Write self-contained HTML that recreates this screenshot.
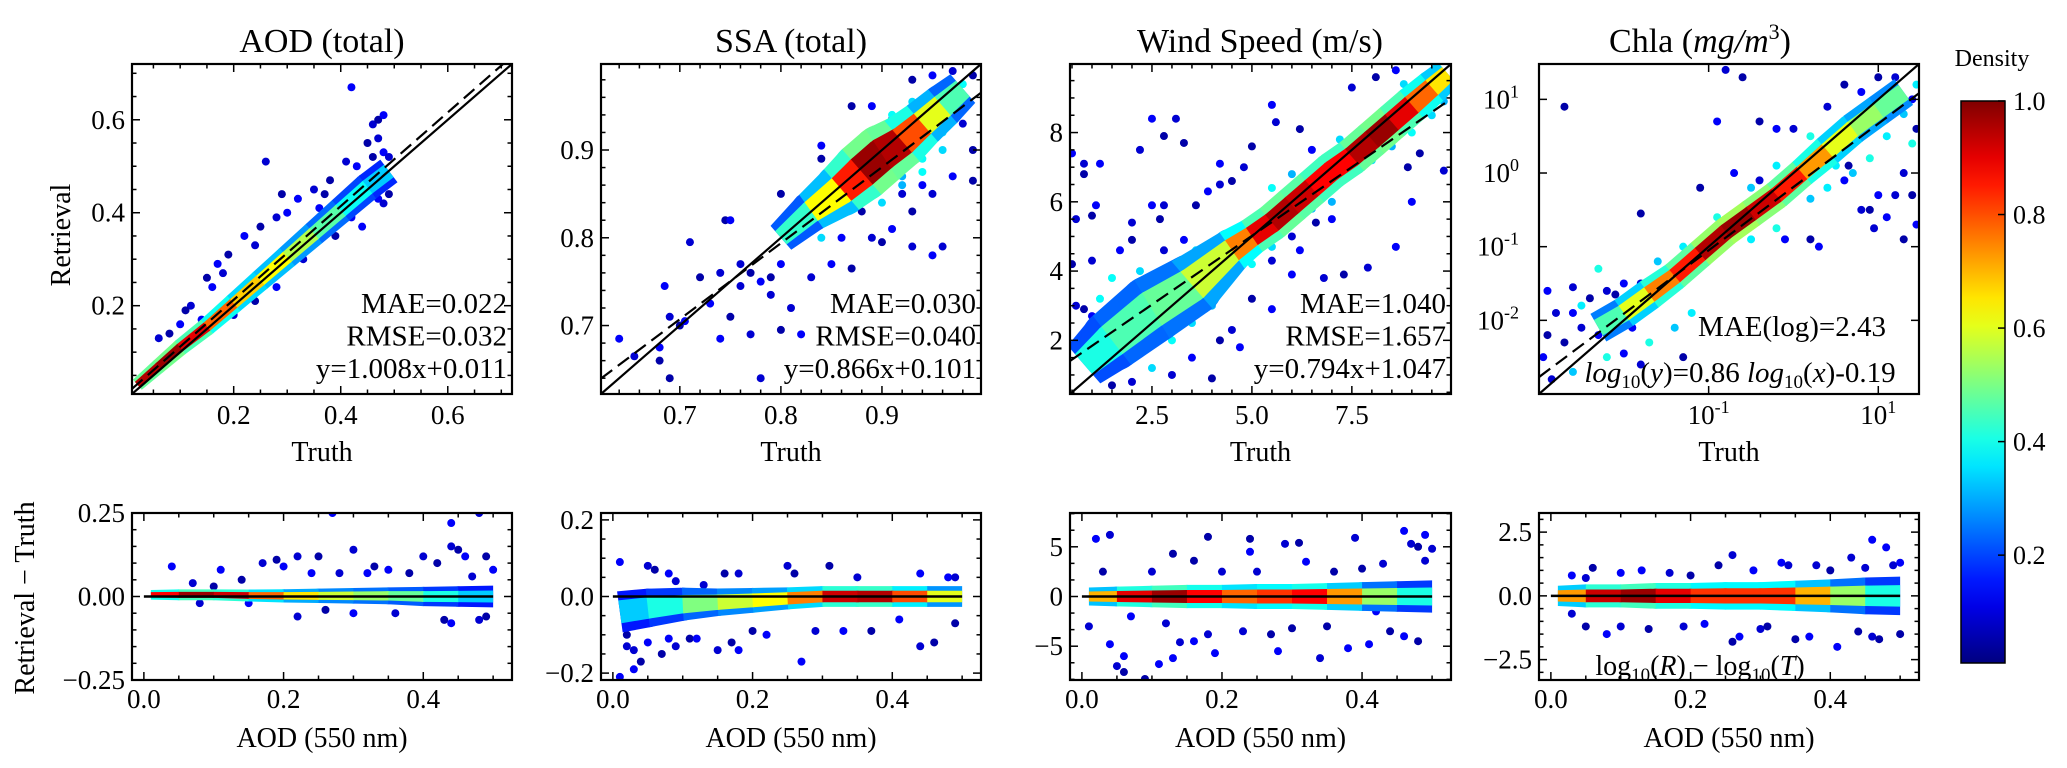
<!DOCTYPE html>
<html><head><meta charset="utf-8"><title>Retrieval scatter density</title>
<style>
html,body{margin:0;padding:0;background:#fff;}
svg{display:block;font-family:"Liberation Serif",serif;}
</style></head>
<body>
<svg id="fig" width="2067" height="768" viewBox="0 0 2067 768" xmlns="http://www.w3.org/2000/svg"></svg>
<script>
// ---------------- DATA ----------------
// AOD top
const aodBandX=[0.02,0.06,0.10,0.15,0.20,0.25,0.30,0.35,0.40,0.45,0.49];
const aodBandY=[0.03,0.07,0.11,0.155,0.205,0.255,0.305,0.355,0.405,0.455,0.49];
const aodBandW=[0.008,0.009,0.010,0.011,0.012,0.013,0.014,0.015,0.016,0.017,0.017];
const aodBandD=[0.9,1.0,0.95,0.85,0.7,0.65,0.6,0.5,0.42,0.35,0.3];
const aodOutX=[0.42,0.46,0.47,0.48,0.47,0.45,0.48,0.49,0.46,0.43,0.41,0.49,0.47,0.48,0.40,0.42,0.26,0.29,0.32,0.35,0.37,0.30,0.28,0.25,0.22,0.24,0.19,0.17,0.18,0.15,0.16,0.12,0.11,0.10,0.06,0.08,0.14,0.20,0.24,0.28,0.33,0.39,0.44,0.43,0.38,0.36];
const aodOutY=[0.67,0.59,0.60,0.61,0.56,0.55,0.53,0.52,0.52,0.50,0.51,0.44,0.43,0.42,0.38,0.39,0.51,0.44,0.43,0.45,0.44,0.40,0.39,0.37,0.35,0.33,0.31,0.29,0.27,0.26,0.24,0.20,0.19,0.16,0.13,0.14,0.17,0.18,0.21,0.24,0.30,0.35,0.37,0.46,0.47,0.41];
// SSA top
const ssaBandX=[0.80,0.83,0.86,0.88,0.90,0.92,0.94,0.96,0.98];
const ssaBandY=[0.80,0.83,0.855,0.875,0.895,0.91,0.93,0.95,0.97];
const ssaBandW=[0.010,0.013,0.017,0.019,0.019,0.017,0.015,0.014,0.012];
const ssaBandD=[0.35,0.5,0.75,0.95,1.0,0.9,0.7,0.5,0.4];
const ssaOutX=[0.64,0.655,0.68,0.685,0.69,0.70,0.705,0.71,0.72,0.73,0.74,0.745,0.75,0.76,0.77,0.78,0.79,0.79,0.80,0.81,0.75,0.74,0.77,0.80,0.82,0.78,0.69,0.68,0.76,0.80,0.82,0.83,0.84,0.84,0.85,0.87,0.89,0.91,0.93,0.95,0.97,0.99,0.96,0.98,0.99,0.97,0.95,0.93,0.91,0.89,0.87,0.85,0.83,0.90,0.95,0.96,0.99,0.94,0.92,0.88,0.86,0.93];
const ssaOutY=[0.685,0.665,0.66,0.745,0.71,0.70,0.705,0.795,0.755,0.725,0.76,0.82,0.82,0.77,0.76,0.75,0.735,0.755,0.77,0.72,0.71,0.685,0.69,0.695,0.69,0.64,0.64,0.675,0.745,0.85,0.80,0.845,0.89,0.905,0.88,0.95,0.95,0.935,0.98,0.985,0.99,0.985,0.94,0.93,0.90,0.87,0.85,0.83,0.81,0.80,0.765,0.77,0.755,0.795,0.78,0.79,0.865,0.86,0.85,0.83,0.80,0.79];
const ssaMidX=[0.82,0.84,0.86,0.88,0.90,0.92,0.94,0.96,0.97,0.85,0.87,0.89,0.91,0.93,0.95,0.98,0.90,0.92,0.94,0.96];
const ssaMidY=[0.82,0.80,0.83,0.85,0.86,0.87,0.89,0.92,0.96,0.865,0.89,0.915,0.94,0.955,0.965,0.975,0.84,0.86,0.875,0.90];
// Wind top
const windBandX=[0.8,1.5,2.5,3.5,4.5,5.0,5.5,6.0,6.5,7.0,7.5,8.0,8.5,9.0,9.5,9.9];
const windBandY=[1.3,2.0,2.9,3.6,4.6,5.0,5.4,5.9,6.4,6.9,7.3,7.8,8.3,8.8,9.3,9.7];
const windBandW=[0.4,0.5,0.55,0.5,0.35,0.3,0.3,0.3,0.3,0.3,0.3,0.3,0.3,0.3,0.28,0.25];
const windBandD=[0.35,0.45,0.45,0.5,0.65,0.85,0.95,0.95,0.9,0.85,0.9,1.0,0.95,0.85,0.7,0.6];
const windOutX=[0.5,0.8,0.8,1.2,0.6,1.0,1.1,2.2,2.8,2.5,3.1,3.3,2.5,2.8,2.7,4.2,4.8,5.0,5.5,5.6,6.2,6.5,7.5,8.1,8.6,2.0,3.6,3.9,4.2,4.5,3.3,2.8,2.0,1.7,1.0,0.5,6.0,6.8,7.3,8.6,7.9,8.9,9.0,9.8,9.2,6.2,5.5,5.0,5.5,4.5,4.2,3.5,3.0,4.0,4.7,0.6,0.8,1.0,6.0,6.6,7.0,2.0,1.5];
const windOutY=[7.4,7.1,6.8,7.1,5.5,5.6,5.9,7.5,7.9,8.4,8.4,7.7,5.9,5.9,5.5,7.1,7.0,7.6,8.8,8.3,8.1,7.5,9.3,9.6,9.8,5.4,5.9,6.3,6.5,6.6,4.9,4.6,4.9,4.6,4.3,4.2,3.9,3.8,3.9,4.7,4.1,7.0,6.0,6.9,7.4,4.6,4.3,3.2,2.9,2.3,2.0,1.5,1.0,0.9,1.8,3.0,2.9,2.7,5.0,5.4,5.5,0.8,0.7];
const windMidX=[1.5,2.2,2.7,3.2,3.6,4.0,3.0,3.5,4.0,2.0,2.5,7.0,7.5,8.0,8.5,9.0,9.5,6.5,5.0,5.5,9.8,9.8,7.2,6.0,5.5,8.8,1.0,1.2,0.7,1.8];
const windMidY=[3.8,4.0,3.6,3.9,4.6,4.3,2.0,2.5,3.0,1.5,1.2,6.0,6.8,7.2,7.6,8.0,8.5,5.8,4.2,4.7,8.9,9.1,7.8,6.8,6.4,9.4,2.3,3.2,1.8,2.9];
// Chla top (log10 values)
const chlBandX=[-2.3,-2.0,-1.7,-1.4,-1.1,-0.8,-0.5,-0.2,0.1,0.4,0.7,1.0,1.3];
const chlBandY=[-2.1,-1.9,-1.65,-1.4,-1.1,-0.8,-0.55,-0.3,0.0,0.3,0.6,0.85,1.1];
const chlBandW=[0.12,0.12,0.12,0.11,0.11,0.11,0.11,0.11,0.11,0.12,0.12,0.12,0.12];
const chlBandD=[0.4,0.5,0.7,0.8,0.9,1.0,0.95,0.9,0.8,0.65,0.55,0.5,0.45];
const chlOutX=[-2.9,-2.8,-2.9,-2.95,-2.85,-2.7,-2.6,-2.6,-2.4,-2.3,-2.2,-2.1,-2.0,-1.8,-2.7,-2.0,-1.8,-1.6,-1.9,-2.5,-1.3,-0.6,-0.9,-1.1,-0.9,-0.8,-0.6,-0.7,-0.4,-0.4,-0.2,0.0,0.2,0.3,0.4,0.6,0.6,0.8,0.9,1.0,1.2,1.4,1.45,1.3,1.45,1.4,1.2,1.0,0.8,0.9,1.3,1.1,0.95,-1.8,-0.1,0.7,0.65];
const chlOutY=[-1.6,-1.9,-2.2,-2.5,-2.8,-2.3,-1.9,-1.55,-1.7,-2.2,-1.6,-1.65,-2.45,-2.6,0.9,-1.5,-1.5,-1.6,-2.1,-2.1,-2.5,-0.7,-1.0,-0.2,0.7,1.4,1.3,0.0,-0.1,0.7,0.6,0.6,-0.9,-1.0,0.9,1.2,-0.1,-0.5,-0.5,-0.3,-0.3,-0.3,-0.7,0.0,0.6,1.0,1.3,1.3,1.1,0.7,-0.9,-0.6,-0.75,-0.55,-0.9,0.4,0.1];
const chlMidX=[0.3,0.5,0.7,0.9,1.1,1.3,1.4,0.4,0.2,-0.2,-0.5,-1.4,-1.7,-1.2,-2.6,-2.2,1.45,0.6,0.2,-0.2,-0.5,-0.9,-1.3,-1.6,-2.3,-2.5];
const chlMidY=[0.3,0.1,0.0,0.2,0.5,0.8,0.4,-0.2,-0.35,-0.75,-0.9,-2.1,-2.3,-1.9,-2.7,-2.5,1.2,0.7,0.5,0.1,-0.2,-0.6,-1.0,-1.2,-1.3,-1.8];
// bottom residual panels (shared x nodes)
const resX=[0.01,0.05,0.10,0.15,0.20,0.25,0.30,0.35,0.40,0.45,0.50];
const aodResC=[0.005,0.005,0.005,0.003,0.002,0.002,0.002,0.002,0.0,0.0,0.0];
const aodResW=[0.008,0.009,0.009,0.01,0.011,0.012,0.013,0.014,0.016,0.017,0.018];
const aodResD=[0.8,0.95,1.0,0.85,0.7,0.6,0.55,0.5,0.45,0.35,0.3];
const aodResOutX=[0.04,0.07,0.10,0.11,0.17,0.19,0.20,0.22,0.25,0.27,0.30,0.33,0.35,0.40,0.42,0.44,0.44,0.45,0.46,0.48,0.49,0.50,0.22,0.26,0.30,0.36,0.43,0.44,0.48,0.49,0.15,0.08,0.38,0.32,0.28,0.14,0.24,0.47];
const aodResOutY=[0.09,0.04,0.03,0.08,0.10,0.11,0.09,0.12,0.12,0.25,0.14,0.09,0.08,0.12,0.10,0.22,0.15,0.14,0.12,0.25,0.12,0.08,-0.06,-0.04,-0.05,-0.05,-0.07,-0.08,-0.07,-0.06,-0.02,-0.02,0.07,0.07,0.07,0.05,0.07,0.06];
const ssaResC=[-0.04,-0.03,-0.02,-0.015,-0.01,-0.005,0,0,0,0,0];
const ssaResW=[0.03,0.028,0.024,0.02,0.018,0.016,0.015,0.015,0.015,0.015,0.015];
const ssaResD=[0.3,0.35,0.45,0.55,0.6,0.65,0.85,1.0,0.9,0.7,0.5];
const ssaResOutX=[0.01,0.02,0.02,0.03,0.03,0.04,0.05,0.05,0.06,0.08,0.09,0.07,0.08,0.09,0.11,0.12,0.15,0.17,0.18,0.18,0.16,0.22,0.25,0.26,0.27,0.29,0.31,0.33,0.35,0.37,0.44,0.44,0.46,0.48,0.49,0.49,0.01,0.13,0.20,0.41];
const ssaResOutY=[0.09,-0.13,-0.10,-0.19,-0.14,-0.17,-0.12,0.08,0.07,0.06,0.04,-0.15,-0.11,-0.13,-0.11,-0.11,-0.14,-0.12,-0.14,0.06,0.06,-0.10,0.08,0.06,-0.17,-0.09,0.08,-0.09,0.05,-0.09,0.06,-0.13,-0.12,0.05,0.05,-0.07,-0.21,0.03,-0.09,-0.06];
const windResC=[0,0,0,0,0,0,0,0,0,0,0];
const windResW=[0.5,0.55,0.6,0.65,0.65,0.7,0.7,0.75,0.8,0.85,0.9];
const windResD=[0.6,0.8,1.0,0.95,0.8,0.75,0.9,0.85,0.6,0.45,0.35];
const windResOutX=[0.02,0.04,0.03,0.04,0.05,0.06,0.06,0.01,0.09,0.11,0.10,0.13,0.13,0.14,0.16,0.16,0.18,0.18,0.19,0.20,0.24,0.24,0.23,0.27,0.28,0.29,0.31,0.32,0.34,0.35,0.38,0.39,0.40,0.41,0.43,0.44,0.46,0.47,0.48,0.49,0.50,0.48,0.46,0.25,0.30,0.07,0.12,0.36,0.42,0.49];
const windResOutY=[5.8,6.2,2.5,-4.8,-7,-7.6,-6,-3,-8.3,-6.8,2.5,4.3,-6.2,-4.6,3.6,-4.5,-3.8,6,-5.7,2.5,5.8,4.5,-3.5,-3.8,-5.5,5.3,5.4,3.5,-6.2,-3,-5.2,5.9,2.8,-4.8,3.3,-3.5,6.6,5.3,5,6.2,4.8,-4.5,-4,2.5,-3.2,-2,-2.7,2.5,-1.5,3.6];
const chlResC=[0,0,0,0,0,0,0,0,0,0,0];
const chlResW=[0.22,0.25,0.25,0.28,0.28,0.3,0.3,0.33,0.36,0.4,0.42];
const chlResD=[0.6,0.85,1.0,0.95,0.85,0.8,0.85,0.8,0.6,0.45,0.35];
const chlResOutX=[0.03,0.05,0.06,0.10,0.03,0.05,0.08,0.10,0.14,0.13,0.17,0.20,0.22,0.26,0.26,0.27,0.30,0.31,0.33,0.34,0.35,0.37,0.38,0.40,0.41,0.43,0.44,0.46,0.46,0.47,0.48,0.49,0.50,0.50,0.19,0.24,0.29,0.45];
const chlResOutY=[0.8,0.7,1.1,0.9,-0.7,-1.2,-1.5,-1.2,-1.3,1.0,0.9,0.8,-1.1,1.6,-1.8,-1.6,-1.3,-1.2,1.3,1.2,-1.7,-1.6,1.2,1.0,-2,1.5,-1.4,2.2,-1.6,-1.7,1.9,1.2,-1.5,1.3,-1.2,1.2,1.0,1.1];
// tick labels
const aodTicks=[0.2,0.4,0.6];
const ssaTicks=[0.7,0.8,0.9];
const windXTicks=[2.5,5.0,7.5];
const windYTicks=[2,4,6,8];
const chlYTicks=[-2,-1,0,1];
const chlXTicks=[-1,1];
const resXTicks=[0.0,0.2,0.4];
const cbTicks=[0.2,0.4,0.6,0.8,1.0];

// ---------------- DRAWING ----------------
const NS='http://www.w3.org/2000/svg';
const svg=document.getElementById('fig');
function el(tag,attrs,parent,text){const e=document.createElementNS(NS,tag);for(const k in attrs)e.setAttribute(k,attrs[k]);if(text!==undefined)e.textContent=text;(parent||svg).appendChild(e);return e;}
function jet(v){const c=t=>Math.round(255*Math.max(0,Math.min(1,t)));return `rgb(${c(1.5-Math.abs(4*v-3))},${c(1.5-Math.abs(4*v-2))},${c(1.5-Math.abs(4*v-1))})`;}
function lin(d0,d1,r0,r1){return v=>r0+(v-d0)*(r1-r0)/(d1-d0);}

function makeAxes(name,L,R,T,B,xr,yr){
  const g=el('g',{});
  return {g,L,R,T,B,sx:lin(xr[0],xr[1],L,R),sy:lin(yr[0],yr[1],B,T),xr,yr};
}
function clipFor(ax,id){
  const cp=el('clipPath',{id});el('rect',{x:ax.L,y:ax.T,width:ax.R-ax.L,height:ax.B-ax.T},cp);
  const g=el('g',{'clip-path':`url(#${id})`},ax.g);return g;
}
function band(ax,g,X,Y,W,D,scaleOuter,outerD){
  [[scaleOuter,true],[1,false]].forEach(([k,outer])=>{
    for(let i=0;i<X.length-1;i++){
      const x0=ax.sx(X[i]),x1=ax.sx(X[i+1]);
      const y0=ax.sy(Y[i]),y1=ax.sy(Y[i+1]);
      const w0=Math.abs(ax.sy(0)-ax.sy(W[i]))*k,w1=Math.abs(ax.sy(0)-ax.sy(W[i+1]))*k;
      const dx=x1-x0,dy=y1-y0,len=Math.hypot(dx,dy),nx=-dy/len,ny=dx/len;
      const d=outer?Math.max(0.05,(D[i]+D[i+1])/2*outerD):(D[i]+D[i+1])/2;
      const p=el('polygon',{points:`${x0+nx*w0},${y0+ny*w0} ${x1+nx*w1},${y1+ny*w1} ${x1-nx*w1},${y1-ny*w1} ${x0-nx*w0},${y0-ny*w0}`,fill:jet(d)},g);
      
      
      if(i<X.length-2){
        const c=el('circle',{cx:x1,cy:y1,r:w1,fill:jet(d)},g);
        
        
      }
    }
  });
}
function pts(ax,g,X,Y,dens){
  for(let i=0;i<X.length;i++){
    const d=Array.isArray(dens)?dens[i]:dens - (i%3)*0.04;
    const c=el('circle',{cx:ax.sx(X[i]),cy:ax.sy(Y[i]),r:4,fill:jet(d)},g);
    
    
  }
}
function line(ax,g,fn,dash){
  const x0=ax.xr[0],x1=ax.xr[1];
  const l=el('line',{x1:ax.sx(x0),y1:ax.sy(fn(x0)),x2:ax.sx(x1),y2:ax.sy(fn(x1)),stroke:'#000','stroke-width':2.2,'stroke-dasharray':dash||'none'},g);
  
  
}
function frame(ax,xMinor,xMajor,yMinor,yMajor){
  const g=ax.g;
  const tick=(x1,y1,x2,y2)=>el('line',{x1,y1,x2,y2,stroke:'#000','stroke-width':1.5},g);
  const eps=1e-9;
  if(xMinor){
    const s=Math.ceil(ax.xr[0]/xMinor-eps);
    for(let k=s;k*xMinor<=ax.xr[1]+eps;k++){const v=k*xMinor,x=ax.sx(v);
      const maj=Math.abs(v/xMajor-Math.round(v/xMajor))<1e-6;const len=maj?8:4.5;
      tick(x,ax.B,x,ax.B-len);tick(x,ax.T,x,ax.T+len);}
  }
  if(yMinor){
    const s=Math.ceil(ax.yr[0]/yMinor-eps);
    for(let k=s;k*yMinor<=ax.yr[1]+eps;k++){const v=k*yMinor,y=ax.sy(v);
      const maj=Math.abs(v/yMajor-Math.round(v/yMajor))<1e-6;const len=maj?8:4.5;
      tick(ax.L,y,ax.L+len,y);tick(ax.R,y,ax.R-len,y);}
  }
  const r=el('rect',{x:ax.L,y:ax.T,width:ax.R-ax.L,height:ax.B-ax.T,fill:'none',stroke:'#000','stroke-width':2.2},g);
  
  
}
function xLabels(ax,ticks,fmt,y){
  ticks.forEach(v=>{const t=el('text',{x:ax.sx(v),y,'text-anchor':'middle','font-size':27},ax.g,fmt(v));
    });
}
function yLabels(ax,ticks,fmt){
  ticks.forEach(v=>{const t=el('text',{x:ax.L-7,y:ax.sy(v)+9,'text-anchor':'end','font-size':27},ax.g,fmt(v));
    });
}
function label(txt,x,y,size,name,anchor,rot){
  const a={x,y,'font-size':size,'text-anchor':anchor||'middle'};
  if(rot)a.transform=`rotate(-90 ${x} ${y})`;
  const t=el('text',a,svg,txt);return t;
}
function annot(ax,lines){
  lines.forEach((s,i)=>{const t=el('text',{x:ax.R-5,y:ax.B-81+i*32.5,'text-anchor':'end','font-size':29},ax.g,s);
    });
}
const f1=v=>v.toFixed(1);
const TT=64,TB=394,BT=513,BB=680;
const cols=[[132,512],[601,981],[1070,1451],[1539,1919]];

// ---- top panels ----
const a1=makeAxes('aod-scatter-panel',cols[0][0],cols[0][1],TT,TB,[0.01,0.72],[0.01,0.72]);
let g=clipFor(a1,'c1');
pts(a1,g,aodOutX,aodOutY,0.12);
band(a1,g,aodBandX,aodBandY,aodBandW,aodBandD,1.8,0.5);
line(a1,g,x=>x);line(a1,g,x=>1.008*x+0.011,'14 7');
frame(a1,0.05,0.2,0.05,0.2);xLabels(a1,aodTicks,f1,424);yLabels(a1,aodTicks,f1);
annot(a1,['MAE=0.022','RMSE=0.032','y=1.008x+0.011']);

const a2=makeAxes('ssa-scatter-panel',cols[1][0],cols[1][1],TT,TB,[0.622,0.998],[0.622,0.998]);
g=clipFor(a2,'c2');
pts(a2,g,ssaOutX,ssaOutY,0.12);pts(a2,g,ssaMidX,ssaMidY,0.38);
band(a2,g,ssaBandX,ssaBandY,ssaBandW,ssaBandD,1.8,0.5);
line(a2,g,x=>x);line(a2,g,x=>0.866*x+0.101,'14 7');
frame(a2,0.02,0.1,0.02,0.1);xLabels(a2,ssaTicks,f1,424);yLabels(a2,ssaTicks,f1);
annot(a2,['MAE=0.030','RMSE=0.040','y=0.866x+0.101']);

const a3=makeAxes('wind-scatter-panel',cols[2][0],cols[2][1],TT,TB,[0.45,9.98],[0.45,9.98]);
g=clipFor(a3,'c3');
pts(a3,g,windOutX,windOutY,0.12);pts(a3,g,windMidX,windMidY,0.38);
band(a3,g,windBandX,windBandY,windBandW,windBandD,1.8,0.5);
line(a3,g,x=>x);line(a3,g,x=>0.794*x+1.047,'14 7');
frame(a3,0.5,2.5,0.5,2);xLabels(a3,windXTicks,f1,424);yLabels(a3,windYTicks,v=>String(v));
annot(a3,['MAE=1.040','RMSE=1.657','y=0.794x+1.047']);

const a4=makeAxes('chla-scatter-panel',cols[3][0],cols[3][1],TT,TB,[-3.0,1.48],[-3.0,1.48]);
g=clipFor(a4,'c4');
pts(a4,g,chlOutX,chlOutY,0.12);pts(a4,g,chlMidX,chlMidY,0.4);
band(a4,g,chlBandX,chlBandY,chlBandW,chlBandD,1.8,0.55);
line(a4,g,x=>x);line(a4,g,x=>0.86*x-0.19,'14 7');
frame(a4,null,1,1,1);
[-1,1].forEach(v=>{const x=a4.sx(v);el('line',{x1:x,y1:TB,x2:x,y2:TB-8,stroke:'#000','stroke-width':1.5},a4.g);el('line',{x1:x,y1:TT,x2:x,y2:TT+8,stroke:'#000','stroke-width':1.5},a4.g);});
chlXTicks.forEach(v=>{const t=el('text',{x:a4.sx(v),y:424,'text-anchor':'middle','font-size':27},a4.g);
  
  el('tspan',{},t,'10');el('tspan',{dy:-11,'font-size':18},t,String(v));});
chlYTicks.forEach(v=>{const t=el('text',{x:a4.L-20,y:a4.sy(v)+9,'text-anchor':'end','font-size':27},a4.g);
  
  el('tspan',{},t,'10');el('tspan',{dy:-11,'font-size':18},t,String(v));});
{
 const t1=el('text',{x:1792,y:336,'text-anchor':'middle','font-size':29},a4.g,'MAE(log)=2.43');
 
 const t2=el('text',{x:1740,y:382,'text-anchor':'middle','font-size':29},a4.g);
 
 el('tspan',{'font-style':'italic'},t2,'log');el('tspan',{'font-size':19,dy:6},t2,'10');el('tspan',{dy:-6},t2,'(');
 el('tspan',{'font-style':'italic'},t2,'y');el('tspan',{},t2,')=0.86 ');el('tspan',{'font-style':'italic'},t2,'log');
 el('tspan',{'font-size':19,dy:6},t2,'10');el('tspan',{dy:-6},t2,'(');el('tspan',{'font-style':'italic'},t2,'x');el('tspan',{},t2,')-0.19');
}

// titles & axis labels
label('AOD (total)',322,52,34,'title-aod');
label('SSA (total)',791,52,34,'title-ssa');
label('Wind Speed (m/s)',1260,52,34,'title-wind');
{const t=label('',1700,52,34,'title-chla','middle');
 el('tspan',{},t,'Chla (');el('tspan',{'font-style':'italic'},t,'mg/m');el('tspan',{dy:-13,'font-size':22},t,'3');el('tspan',{dy:13},t,')');}
cols.forEach(c=>{label('Truth',(c[0]+c[1])/2,461,28,'x-axis-title-truth');});
label('Retrieval',70,235,28,'y-axis-title-retrieval','middle',true);
label('Retrieval − Truth',34,598,28,'y-axis-title-residual','middle',true);

// ---- bottom panels ----
function resPanel(i,name,yr,C,W,D,OX,OY,yMinor,yMajor,yTicks,fmt){
  const ax=makeAxes(name,cols[i][0],cols[i][1],BT,BB,[-0.017,0.527],yr);
  const gg=clipFor(ax,'r'+i);
  pts(ax,gg,OX,OY,0.12);
  band(ax,gg,resX,C,W,D,1.8,0.45);
  const l=el('line',{x1:ax.sx(0.0),y1:ax.sy(0),x2:ax.sx(0.5),y2:ax.sy(0),stroke:'#000','stroke-width':2.5},gg);
  
  frame(ax,0.05,0.2,yMinor,yMajor);
  xLabels(ax,resXTicks,f1,708);yLabels(ax,yTicks,fmt);
  label('AOD (550 nm)',(cols[i][0]+cols[i][1])/2,747,28,'x-axis-title-aod-550');
  return ax;
}
resPanel(0,'aod-residual-panel',[-0.25,0.25],aodResC,aodResW,aodResD,aodResOutX,aodResOutY,0.05,0.25,[-0.25,0,0.25],v=>v===0?'0.00':(v<0?'−':'')+Math.abs(v).toFixed(2));
resPanel(1,'ssa-residual-panel',[-0.218,0.218],ssaResC,ssaResW,ssaResD,ssaResOutX,ssaResOutY,0.05,0.2,[-0.2,0,0.2],v=>(v<0?'−':'')+Math.abs(v).toFixed(1));
resPanel(2,'wind-residual-panel',[-8.4,8.4],windResC,windResW,windResD,windResOutX,windResOutY,5/3,5,[-5,0,5],v=>(v<0?'−':'')+Math.abs(v));
const r4=resPanel(3,'chla-residual-panel',[-3.3,3.25],chlResC,chlResW,chlResD,chlResOutX,chlResOutY,0.5,2.5,[-2.5,0,2.5],v=>(v<0?'−':'')+Math.abs(v).toFixed(1));
{const t=el('text',{x:1700,y:675,'text-anchor':'middle','font-size':28},r4.g);
 
 el('tspan',{},t,'log');el('tspan',{'font-size':19,dy:6},t,'10');el('tspan',{dy:-6},t,'(');el('tspan',{'font-style':'italic'},t,'R');
 el('tspan',{},t,') − log');el('tspan',{'font-size':19,dy:6},t,'10');el('tspan',{dy:-6},t,'(');el('tspan',{'font-style':'italic'},t,'T');el('tspan',{},t,')');}

// ---- colorbar ----
{
 const cg=el('g',{});
 const defs=el('defs',{},svg);const lg=el('linearGradient',{id:'jetg',x1:0,y1:1,x2:0,y2:0},defs);
 for(let k=0;k<=20;k++){el('stop',{offset:k/20,'stop-color':jet(k/20)},lg);}
 const L=1961,R=2005,T=101,B=663,vmin=0.01,vmax=1.0;
 el('rect',{x:L,y:T,width:R-L,height:B-T,fill:'url(#jetg)',stroke:'#000','stroke-width':1.5},cg);
 const s=lin(vmin,vmax,B,T);
 cbTicks.forEach(v=>{el('line',{x1:R,y1:s(v),x2:R-7,y2:s(v),stroke:'#000','stroke-width':1.5},cg);
   const t=el('text',{x:2013,y:s(v)+9,'font-size':26},cg,v.toFixed(1));
   });
 const t=el('text',{x:1992,y:66,'text-anchor':'middle','font-size':24},cg,'Density');
 
}
</script>
</body></html>
